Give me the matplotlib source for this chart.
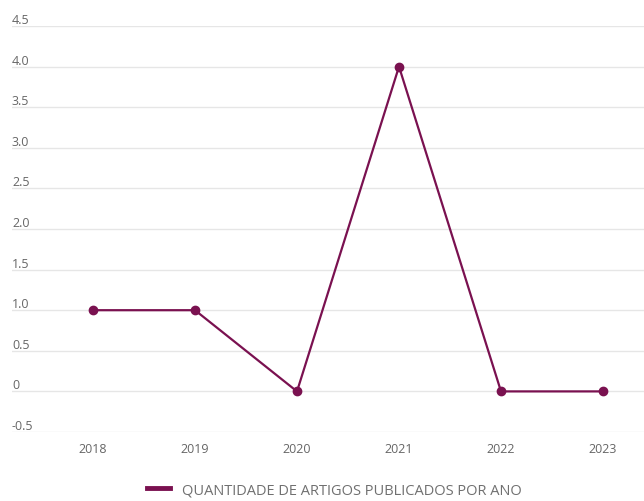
import matplotlib
matplotlib.use("Agg")
import matplotlib.pyplot as plt
from matplotlib.lines import Line2D

years = ["2018", "2019", "2020", "2021", "2022", "2023"]
values = [1, 1, 0, 4, 0, 0]
yticks = [-0.5, 0, 0.5, 1.0, 1.5, 2.0, 2.5, 3.0, 3.5, 4.0, 4.5]
ytick_labels = ["-0.5", "0", "0.5", "1.0", "1.5", "2.0", "2.5", "3.0", "3.5", "4.0", "4.5"]
series_name = "QUANTIDADE DE ARTIGOS PUBLICADOS POR ANO"

color = "#7a1150"
W, H = 644, 502
fig = plt.figure(figsize=(W / 100, H / 100), dpi=100)
left, right = 12 / W, 1.0
bottom, top = 1 - 433 / H, 1 - 27 / H
ax = fig.add_axes([left, bottom, right - left, top - bottom])

x = list(range(len(years)))
ax.set_xlim(-81 / 102, 5 + 41 / 102)
ax.set_ylim(-0.5, 4.5)
for t, lab in zip(yticks, ytick_labels):
    ax.axhline(t, color="#e6e6e6", lw=1, zorder=0)
    ax.text(0, t, lab, transform=ax.get_yaxis_transform(),
            ha="left", va="bottom", fontsize=9, color="#666666", family="Open Sans")
ax.plot(x, values, color=color, lw=1.6, marker="o", markersize=6, zorder=3, clip_on=False)

ax.set_xticks(x)
ax.set_xticklabels(years, fontsize=9, color="#666666", family="Open Sans")
ax.tick_params(axis="x", length=0, pad=7)
ax.set_yticks([])
for s in ax.spines.values():
    s.set_visible(False)

handle = Line2D([0], [0], color=color, lw=3.5)
fig.legend([handle], [series_name], loc="center", bbox_to_anchor=(334 / W, 1 - 491 / H),
           frameon=False, handlelength=1.6, handletextpad=0.8,
           prop={"family": "Open Sans", "size": 10.5}, labelcolor="#707070")

fig.savefig("out.png", dpi=100)
